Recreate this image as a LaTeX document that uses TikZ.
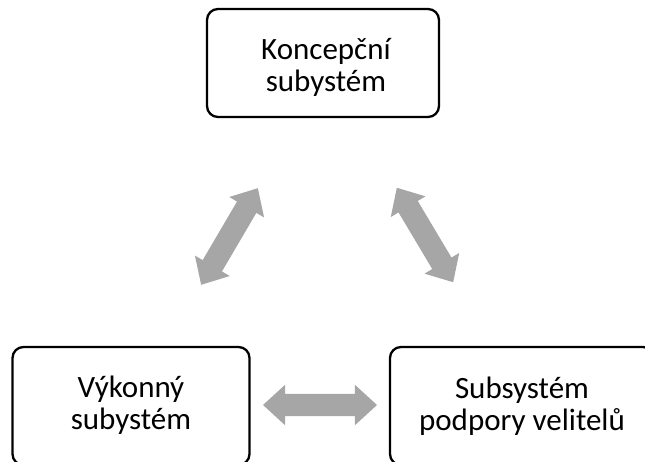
\documentclass[tikz,border=0pt]{standalone}
\usepackage{fontspec}
\setmainfont{Carlito}
\usetikzlibrary{shapes.arrows,calc}
\definecolor{arrowgray}{HTML}{A6A6A6}
\tikzset{
  unitbox/.style={draw=black, line width=2.3pt, rounded corners=11pt, fill=white,
    minimum width=237pt, minimum height=108pt, inner sep=0pt},
  boxtext/.style={align=center, font=\fontsize{31}{32}\selectfont, inner sep=0pt},
  twoway/.style={double arrow, fill=arrowgray, draw=none, minimum height=114pt,
    inner xsep=0pt, inner ysep=11pt, double arrow head extend=9pt,
    double arrow tip angle=85}
}
\begin{document}
\begin{tikzpicture}[x=1pt,y=-1pt]
  \useasboundingbox (0,0) rectangle (645,462);
  \clip (0,0) rectangle (645,462);

  % the three subsystems
  \node[unitbox, minimum width=232pt] (koncept) at (323,63) {};
  \node[boxtext] (konceptT) at (326,67) {Koncepční\\subystém};

  \node[unitbox, minimum height=118pt] (vykon) at (131,406) {};
  \node[boxtext] (vykonT) at (131,405) {Výkonný\\subystém};

  \node[unitbox, minimum width=264pt, minimum height=118pt] (podpora) at (522,406) {};
  \node[boxtext] (podporaT) at (522,406) {Subsystém\\podpory velitelů};

  % links between the subsystems
  \coordinate (lA) at (201,285);
  \coordinate (lB) at (258,188);
  \coordinate (rA) at (397,188);
  \coordinate (rB) at (453,282);
  \coordinate (hA) at (263,405);
  \coordinate (hB) at (377,405);

  \node[twoway, minimum height=112pt, rotate=59.6] (linkL) at ($(lA)!0.5!(lB)$) {};
  \node[twoway, minimum height=110pt, rotate=-59.2] (linkR) at ($(rA)!0.5!(rB)$) {};
  \node[twoway] (linkB) at ($(hA)!0.5!(hB)$) {};
\end{tikzpicture}
\end{document}
